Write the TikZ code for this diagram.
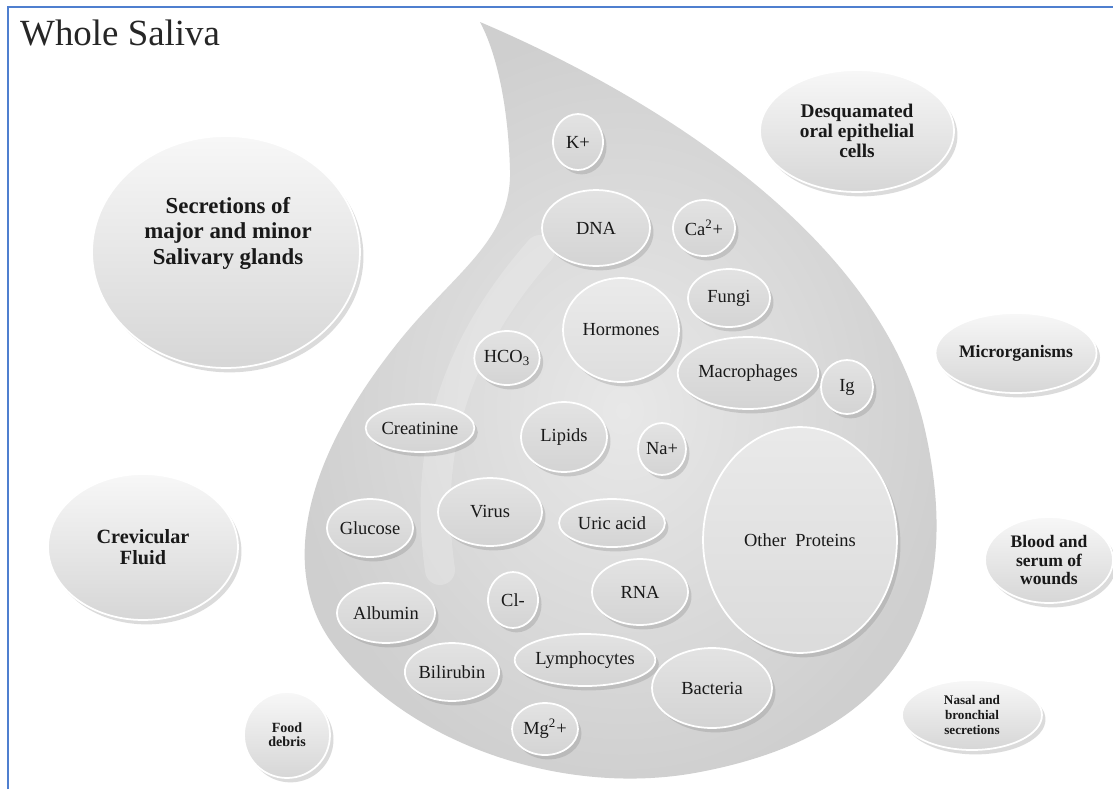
\documentclass[tikz,border=0pt]{standalone}
\usepackage{fontspec}
\setmainfont{Liberation Serif}
\usepackage{xcolor}
\usetikzlibrary{shapes.geometric,shadows}
\definecolor{frameblue}{HTML}{4F7FCF}
\newcommand\srcfont[2]{\fontsize{#1}{#2}\selectfont\bfseries}

\tikzset{
  dropbody/.style={shade, inner color=gray!18, outer color=gray!38},
  bubble/.style={ellipse, inner sep=0pt, align=center, text=black!90,
    draw=white, line width=1pt,
    drop shadow={shadow xshift=2pt, shadow yshift=-2.5pt, opacity=.28}},
  source/.style={bubble, top color=gray!6, bottom color=gray!32},
  inner/.style={bubble, top color=gray!22, bottom color=gray!34,
    font=\fontsize{10.5}{11}\selectfont},
  sz/.style 2 args={minimum width=#1*0.04cm, minimum height=#2*0.04cm},
}

\begin{document}
\begin{tikzpicture}[x=0.02cm,y=-0.02cm]
\useasboundingbox (0,0) rectangle (1113,789);
\fill[white] (0,0) rectangle (1113,789);
\draw[frameblue,line width=1.2pt](8,789)--(8,7)--(1113,7);
\node[anchor=west,font=\fontsize{21}{21}\selectfont,text=black!85] (title) at (14,33) {Whole Saliva};

% the drop
\path[dropbody] (480,22) .. controls (640,90) and (880,230) .. (925,430)
  .. controls (961,590) and (920,730) .. (700,772)
  .. controls (560,799) and (400,740) .. (330,640)
  .. controls (285,575) and (295,470) .. (400,340)
  .. controls (455,272) and (512,240) .. (510,170)
  .. controls (508,100) and (495,50) .. (480,22) -- cycle;
\draw[white,opacity=.2,line width=0.6cm,line cap=round]
  (540,250) .. controls (470,330) and (420,430) .. (440,570);

% sources round the drop
\node[source,sz={134}{116}] (secr) at (226,252) {};
\node[font=\srcfont{13}{14.5},align=center,text=black!90] (secrtext) at (228,233) {Secretions of\\major and minor\\Salivary glands};
\node[source,sz={97}{61},font=\srcfont{11}{11.5}] (desq) at (857,131) {Desquamated\\oral epithelial\\cells};
\node[source,sz={78}{40},font=\srcfont{10}{11}] (micro) at (1016,353) {Microrganisms};
\node[source,sz={95}{73},font=\srcfont{11.5}{11.5}] (crev) at (143,547) {Crevicular\\Fluid};
\node[source,sz={43}{43},font=\srcfont{8}{8}] (food) at (287,735) {Food\\debris};
\node[source,sz={64}{43},font=\srcfont{10}{10.8}] (blood) at (1049,560) {Blood and\\serum of\\wounds};
\node[source,sz={70}{35},font=\srcfont{7.5}{8.5}] (nasal) at (972,715) {Nasal and\\bronchial\\secretions};

% components inside the drop
\node[inner,sz={25}{28}] (kion) at (578,142) {K+};
\node[inner,sz={54}{38}] (dna) at (596,228) {DNA};
\node[inner,sz={31}{28}] (ca) at (704,228) {Ca\textsuperscript{2}+};
\node[inner,sz={41}{29}] (fungi) at (729,298) {Fungi};
\node[inner,sz={58}{52},top color=gray!16,bottom color=gray!26] (horm) at (621,330) {Hormones};
\node[inner,sz={32}{27}] (hco) at (507,358) {HCO\textsubscript{3}};
\node[inner,sz={60}{36}] (macro) at (748,373) {Macrophages};
\node[inner,sz={26}{27}] (ig) at (847,387) {Ig};
\node[inner,sz={97}{113},top color=gray!17,bottom color=gray!28] (other) at (800,540) {Other~ Proteins};
\node[inner,sz={60}{40}] (bact) at (712,688) {Bacteria};
\node[inner,sz={53}{24}] (creat) at (420,428) {Creatinine};
\node[inner,sz={43}{35}] (lipids) at (564,437) {Lipids};
\node[inner,sz={24}{26}] (na) at (662,449) {Na+};
\node[inner,sz={52}{34}] (virus) at (490,512) {Virus};
\node[inner,sz={43}{29}] (gluc) at (370,528) {Glucose};
\node[inner,sz={53}{24}] (uric) at (612,523) {Uric acid};
\node[inner,sz={48}{33}] (rna) at (640,592) {RNA};
\node[inner,sz={25}{28}] (cl) at (513,600) {Cl-};
\node[inner,sz={49}{30}] (alb) at (386,613) {Albumin};
\node[inner,sz={41}{29}] (bili) at (452,672) {Bilirubin};
\node[inner,sz={58}{26}] (lymph) at (585,660) {Lymphocytes};
\node[inner,sz={33}{26}] (mg) at (545,729) {Mg\textsuperscript{2}+};
\end{tikzpicture}
\end{document}
